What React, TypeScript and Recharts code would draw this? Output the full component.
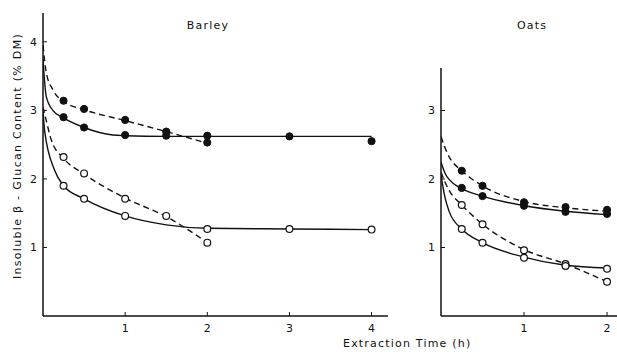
import React from "react";
import { ComposedChart, Line, Scatter, XAxis, YAxis } from "recharts";

// ---- Data ----
// Barley measured points
const barleyTimes = [0.25, 0.5, 1, 1.5, 2, 3, 4];
const barleyFilledSolid = [2.9, 2.75, 2.64, 2.63, 2.63, 2.62, 2.55];
const barleyFilledDashedTimes = [0.25, 0.5, 1, 1.5, 2];
const barleyFilledDashed = [3.14, 3.02, 2.86, 2.69, 2.53];
const barleyOpenSolidTimes = [0.25, 0.5, 1, 2, 3, 4];
const barleyOpenSolid = [1.9, 1.71, 1.46, 1.27, 1.27, 1.26];
const barleyOpenDashedTimes = [0.25, 0.5, 1, 1.5, 2];
const barleyOpenDashed = [2.32, 2.08, 1.71, 1.46, 1.07];

// Barley fitted curves
const bFdCurveT = [0, 0.04, 0.12, 0.25, 0.5, 1, 1.5, 2];
const bFdCurve = [3.95, 3.55, 3.3, 3.13, 3.01, 2.85, 2.69, 2.52];
const bFsCurveT = [0, 0.04, 0.12, 0.25, 0.5, 0.85, 1, 1.5, 2, 3, 4];
const bFsCurve = [3.75, 3.2, 3.0, 2.89, 2.75, 2.64, 2.63, 2.62, 2.62, 2.62, 2.62];
const bOdCurveT = [0, 0.04, 0.1, 0.25, 0.5, 1, 1.5, 2];
const bOdCurve = [3.05, 2.85, 2.57, 2.3, 2.07, 1.72, 1.45, 1.07];
const bOsCurveT = [0, 0.02, 0.14, 0.25, 0.5, 1, 1.5, 2, 3, 4];
const bOsCurve = [3.0, 2.7, 2.13, 1.9, 1.71, 1.46, 1.33, 1.28, 1.27, 1.26];

// Oats measured points
const oatsTimes = [0.25, 0.5, 1, 1.5, 2];
const oatsFilledDashed = [2.12, 1.9, 1.66, 1.59, 1.55];
const oatsFilledSolid = [1.87, 1.75, 1.61, 1.52, 1.49];
const oatsOpenDashed = [1.62, 1.34, 0.96, 0.76, 0.5];
const oatsOpenSolid = [1.27, 1.07, 0.85, 0.73, 0.69];

// Oats fitted curves
const oCurveT = [0, 0.05, 0.1, 0.25, 0.5, 1, 1.5, 2];
const oFdCurve = [2.62, 2.45, 2.32, 2.12, 1.9, 1.67, 1.58, 1.53];
const oFsCurve = [2.25, 2.08, 1.99, 1.86, 1.75, 1.61, 1.53, 1.48];
const oOdCurve = [2.1, 1.95, 1.83, 1.62, 1.34, 0.97, 0.76, 0.5];
const oOsCurve = [2.05, 1.72, 1.52, 1.27, 1.07, 0.86, 0.74, 0.7];

const barleyXTicks = [1, 2, 3, 4];
const barleyYTicks = [1, 2, 3, 4];
const oatsXTicks = [1, 2];
const oatsYTicks = [1, 2, 3];

const zip = (xs: number[], ys: number[]) => xs.map((x, i) => ({ x, y: ys[i] }));

const FONT = "'DejaVu Sans', sans-serif";
const INK = "#111";

const XTick = (props: any) => {
  const { x, y, payload } = props;
  return (
    <g>
      <line x1={x} y1={y} x2={x} y2={y - 4} stroke={INK} strokeWidth={1} />
      <text x={x} y={y + 16} textAnchor="middle" fontFamily={FONT} fontSize={11} fill={INK}>
        {payload.value}
      </text>
    </g>
  );
};

const YTick = (props: any) => {
  const { x, y, payload } = props;
  return (
    <g>
      <line x1={x} y1={y} x2={x + 4} y2={y} stroke={INK} strokeWidth={1} />
      <text x={x - 6} y={y + 4} textAnchor="end" fontFamily={FONT} fontSize={11} fill={INK}>
        {payload.value}
      </text>
    </g>
  );
};

const filledDot = (p: any) => <circle cx={p.cx} cy={p.cy} r={3.6} fill={INK} stroke={INK} strokeWidth={1} />;
const openDot = (p: any) => <circle cx={p.cx} cy={p.cy} r={3.4} fill="#fff" stroke={INK} strokeWidth={1.2} />;

const axisStyle = { stroke: INK, strokeWidth: 1.5 };
const DASH = "6 4";

type Series = { curve: { x: number; y: number }[]; pts: { x: number; y: number }[]; dashed: boolean; filled: boolean };

const renderSeries = (list: Series[]) => {
  const out: any[] = [];
  list.forEach((s, i) => {
    out.push(
      <Line
        key={"l" + i}
        data={s.curve}
        dataKey="y"
        type="monotone"
        stroke={INK}
        strokeWidth={1.4}
        strokeDasharray={s.dashed ? DASH : undefined}
        dot={false}
        activeDot={false}
        isAnimationActive={false}
      />
    );
  });
  list.forEach((s, i) => {
    out.push(
      <Scatter
        key={"s" + i}
        data={s.pts}
        dataKey="y"
        shape={s.filled ? filledDot : openDot}
        isAnimationActive={false}
      />
    );
  });
  return out;
};

const barleySeries: Series[] = [
  { curve: zip(bFdCurveT, bFdCurve), pts: zip(barleyFilledDashedTimes, barleyFilledDashed), dashed: true, filled: true },
  { curve: zip(bFsCurveT, bFsCurve), pts: zip(barleyTimes, barleyFilledSolid), dashed: false, filled: true },
  { curve: zip(bOdCurveT, bOdCurve), pts: zip(barleyOpenDashedTimes, barleyOpenDashed), dashed: true, filled: false },
  { curve: zip(bOsCurveT, bOsCurve), pts: zip(barleyOpenSolidTimes, barleyOpenSolid), dashed: false, filled: false },
];

const oatsSeries: Series[] = [
  { curve: zip(oCurveT, oFdCurve), pts: zip(oatsTimes, oatsFilledDashed), dashed: true, filled: true },
  { curve: zip(oCurveT, oFsCurve), pts: zip(oatsTimes, oatsFilledSolid), dashed: false, filled: true },
  { curve: zip(oCurveT, oOdCurve), pts: zip(oatsTimes, oatsOpenDashed), dashed: true, filled: false },
  { curve: zip(oCurveT, oOsCurve), pts: zip(oatsTimes, oatsOpenSolid), dashed: false, filled: false },
];

export default function App() {
  return (
    <div style={{ position: "absolute", left: 0, top: 0, width: 617, height: 352, background: "#fff", overflow: "hidden" }}>
      <div style={{ position: "absolute", left: 0, top: 0 }}>
        <ComposedChart width={400} height={352} margin={{ top: 13, left: 0, right: 12, bottom: 0 }}>
          <XAxis
            type="number"
            dataKey="x"
            domain={[0, 4.2]}
            ticks={barleyXTicks}
            tick={<XTick />}
            tickLine={false}
            tickSize={0}
            tickMargin={0}
            height={36}
            axisLine={axisStyle}
            allowDataOverflow
          />
          <YAxis
            type="number"
            dataKey="y"
            domain={[0, 4.42]}
            ticks={barleyYTicks}
            tick={<YTick />}
            tickLine={false}
            tickSize={0}
            tickMargin={0}
            width={43}
            axisLine={axisStyle}
            allowDataOverflow
          />
          {renderSeries(barleySeries)}
        </ComposedChart>
      </div>
      <div style={{ position: "absolute", left: 400, top: 0 }}>
        <ComposedChart width={217} height={352} margin={{ top: 68, left: 0, right: 0, bottom: 0 }}>
          <XAxis
            type="number"
            dataKey="x"
            domain={[0, 2.12]}
            ticks={oatsXTicks}
            tick={<XTick />}
            tickLine={false}
            tickSize={0}
            tickMargin={0}
            height={36}
            axisLine={axisStyle}
            allowDataOverflow
          />
          <YAxis
            type="number"
            dataKey="y"
            domain={[0, 3.62]}
            ticks={oatsYTicks}
            tick={<YTick />}
            tickLine={false}
            tickSize={0}
            tickMargin={0}
            width={41}
            axisLine={axisStyle}
            allowDataOverflow
          />
          {renderSeries(oatsSeries)}
        </ComposedChart>
      </div>
      <svg width={617} height={352} style={{ position: "absolute", left: 0, top: 0, pointerEvents: "none" }}>
        <text x={208} y={29} textAnchor="middle" fontFamily={FONT} fontSize={11} letterSpacing={1.2} fill={INK}>
          Barley
        </text>
        <text x={532} y={29} textAnchor="middle" fontFamily={FONT} fontSize={11} letterSpacing={1.2} fill={INK}>
          Oats
        </text>
        <text
          x={21}
          y={156}
          transform="rotate(-90 21 156)"
          textAnchor="middle"
          fontFamily={FONT}
          fontSize={11}
          letterSpacing={1.3}
          fill={INK}
        >
          Insoluble  β - Glucan Content (% DM)
        </text>
        <text x={343} y={347} textAnchor="start" fontFamily={FONT} fontSize={11} letterSpacing={1.2} fill={INK}>
          Extraction Time (h)
        </text>
      </svg>
    </div>
  );
}
